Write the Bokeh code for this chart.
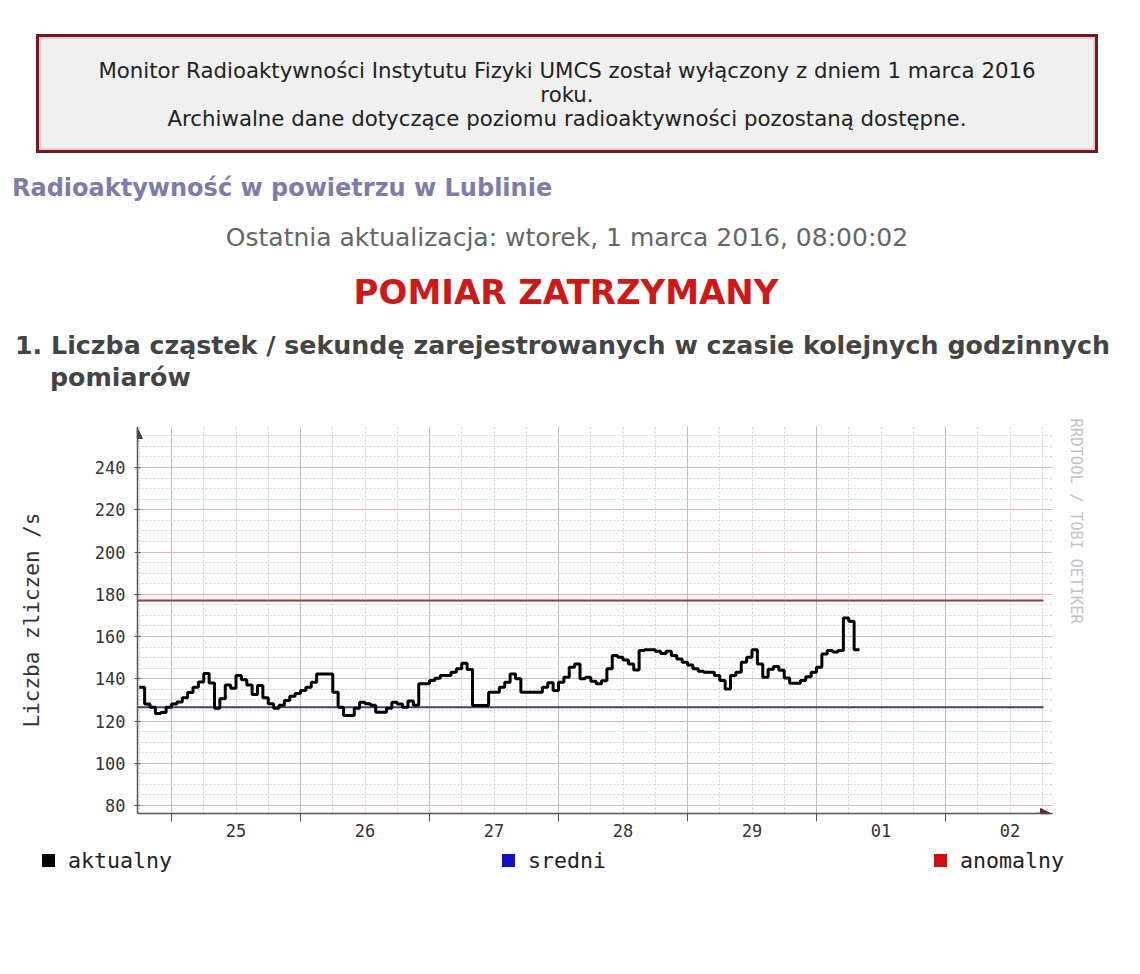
from bokeh.plotting import figure
from bokeh.models import Range1d, FixedTicker, Arrow, NormalHead, Div, Title
from bokeh.layouts import column
from bokeh.embed import file_html
from bokeh.resources import INLINE

# ---------------- data ----------------
# hourly counts / s, first hour = 24 Feb 18:00 (hour -6 relative to 25 Feb 00:00)
start_hour = -6
counts = [
    136, 128, 126.5, 123.5, 124, 126.5, 128, 129, 131, 133.5,
    136, 138.5, 142.5, 138, 126, 130.5, 137, 135.5, 141.5, 139.5,
    137, 132.5, 136.8, 131, 128.2, 126, 127.5, 129.7, 131.7, 133,
    134.4, 136, 138.4, 142.3, 142.3, 142.3, 133.6, 126.5, 122.6, 122.6,
    126, 128.9, 128.2, 127.5, 124.2, 124.2, 126, 128.9, 128, 126.5,
    129.5, 127.5, 137.6, 137.6, 139.2, 140.2, 141.5, 141.5, 143.1, 144.7,
    147.3, 144.4, 127.3, 127.3, 127.3, 133.6, 133.6, 136, 138.4, 142.3,
    140, 133.6, 133.6, 133.6, 133.6, 136, 138.1, 134.4, 138.4, 140.7,
    145.5, 147, 140, 140.7, 138.8, 137.6, 139, 144.7, 151, 150.2,
    148.9, 147, 144.2, 153.4, 153.7, 153.7, 153, 152, 153, 151,
    149.4, 147.8, 146.5, 144.7, 143.5, 143.1, 143.1, 141.5, 139.2, 135.2,
    141.5, 143.1, 147.8, 150.2, 153.7, 147, 140.7, 144.5, 145.8, 144,
    140.4, 137.9, 137.9, 139.2, 141, 143.1, 145.4, 151.7, 153.4, 152.7,
    153.4, 168.8, 167.2, 153.7,
]
sredni = 126.5      # average level
anomalny = 177.0    # anomaly threshold
day_labels = ["25", "26", "27", "28", "29", "01", "02"]
y_ticks = [80, 100, 120, 140, 160, 180, 200, 220, 240]
legend_names = ["aktualny", "sredni", "anomalny"]
legend_colors = ["#000000", "#1010c0", "#d01010"]

header_lines = [
    "Monitor Radioaktywności Instytutu Fizyki UMCS został wyłączony z dniem 1 marca 2016",
    "roku.",
    "Archiwalne dane dotyczące poziomu radioaktywności pozostaną dostępne.",
]
page_title = "Radioaktywność w powietrzu w Lublinie"
update_text = "Ostatnia aktualizacja: wtorek, 1 marca 2016, 08:00:02"
status_text = "POMIAR ZATRZYMANY"
section_line1 = "1. Liczba cząstek / sekundę zarejestrowanych w czasie kolejnych godzinnych"
section_line2 = "pomiarów"
watermark = "RRDTOOL / TOBI OETIKER"

# ---------------- layout constants ----------------
W, H = 1140, 974
TOP_H = 400          # height of the page header block
BOT_Y = 848          # y where legend block starts
FL, FR, FT, FB = 137, 1052, 426, 813
PX_PER_UNIT = 2.1125
PX_PER_HOUR = 5.375
X_ZERO_PX = 171      # pixel of 25 Feb 00:00
Y80_PX = 805         # pixel of value 80


def xval(px):
    return (px - X_ZERO_PX) / PX_PER_HOUR


def yval(py):
    return 80 + (Y80_PX - py) / PX_PER_UNIT


x0, x1 = xval(FL), xval(FR)
y0, y1 = yval(FB), yval(FT)
window_end = xval(1043)

# ---------------- header (HTML) ----------------
F = "'DejaVu Sans', Verdana, sans-serif"


def abs_text(left, center_y, text, size, color, bold=False, width=None, align="left", lh=None):
    lh = lh or int(size * 1.3)
    top = center_y - lh / 2
    w = f"width:{width}px;" if width else ""
    return (f'<div style="position:absolute;left:{left}px;top:{top}px;{w}text-align:{align};'
            f'font-family:{F};font-size:{size}px;line-height:{lh}px;color:{color};'
            f'font-weight:{"bold" if bold else "normal"};white-space:nowrap;">{text}</div>')


top_html = ['<div style="position:relative;width:1140px;height:400px;background:white;">']
top_html.append('<div style="position:absolute;left:36px;top:34px;width:1062px;height:119px;'
                'box-sizing:border-box;border:3px solid #6e1a20;background:#f0f0f0;'
                'box-shadow:inset 0 0 0 2px #efc9c9;"></div>')
for txt, cy in zip(header_lines, [71, 95, 119]):
    top_html.append(abs_text(36, cy, txt, 21.3, "#222222", width=1062, align="center", lh=24))
top_html.append(abs_text(12, 188, page_title, 24, "#7d7da8", bold=True))
top_html.append(abs_text(0, 238, update_text, 25, "#666666", width=1134, align="center"))
top_html.append(abs_text(0, 292, status_text, 34, "#cc1a1a", bold=True, width=1132, align="center"))
top_html.append(abs_text(15, 346, section_line1, 25.3, "#444444", bold=True))
top_html.append(abs_text(50, 378, section_line2, 25.3, "#444444", bold=True))
top_html.append('</div>')
top_div = Div(text="".join(top_html), width=W, height=TOP_H, margin=0)

# ---------------- chart ----------------
p = figure(width=W, height=BOT_Y - TOP_H, x_range=Range1d(x0, x1), y_range=Range1d(y0, y1),
           output_backend="svg", toolbar_location=None,
           min_border_left=FL, min_border_right=W - FR,
           min_border_top=FT - TOP_H, min_border_bottom=BOT_Y - FB)
p.outline_line_color = None
p.background_fill_color = "white"
p.border_fill_color = "white"
p.title.visible = False

midnights = [24 * d for d in range(0, 7)]
six_h = [h for h in range(-6, 163, 6) if h % 24 != 0]
noons = [24 * d + 12 for d in range(len(day_labels))]
p.xgrid.ticker = FixedTicker(ticks=midnights, minor_ticks=six_h)
p.xgrid.grid_line_color = "#bdbdbd"
p.xgrid.minor_grid_line_color = "#d2d2d2"
p.xgrid.minor_grid_line_dash = "2 2"

minor_y = [v for v in range(80, 256, 5) if v not in y_ticks]
p.ygrid.ticker = FixedTicker(ticks=y_ticks, minor_ticks=minor_y)
p.ygrid.grid_line_color = "#e6b4b4"
p.ygrid.minor_grid_line_color = "#d2d2d2"
p.ygrid.minor_grid_line_dash = "2 2"

p.xaxis.ticker = FixedTicker(ticks=noons, minor_ticks=midnights)
p.xaxis.major_label_overrides = {n: lab for n, lab in zip(noons, day_labels)}
p.xaxis.major_tick_line_color = None
p.xaxis.major_tick_out = 0
p.xaxis.major_tick_in = 0
p.xaxis.minor_tick_in = 0
p.xaxis.minor_tick_out = 8
p.xaxis.minor_tick_line_color = "#555555"
p.xaxis.major_label_standoff = 2
p.xaxis.major_label_text_font = "DejaVu Sans Mono"
p.xaxis.major_label_text_font_size = "17px"
p.xaxis.major_label_text_color = "#333333"
p.xaxis.axis_line_color = "#555555"
p.xaxis.axis_line_width = 1.5

p.yaxis.ticker = FixedTicker(ticks=y_ticks)
p.yaxis.major_tick_in = 3
p.yaxis.major_tick_out = 3
p.yaxis.major_tick_line_color = "#555555"
p.yaxis.minor_tick_line_color = None
p.yaxis.major_label_standoff = 9
p.yaxis.major_label_text_font = "DejaVu Sans Mono"
p.yaxis.major_label_text_font_size = "17px"
p.yaxis.major_label_text_color = "#333333"
p.yaxis.axis_line_color = "#555555"
p.yaxis.axis_line_width = 1.5
p.yaxis.axis_label = "Liczba zliczen /s"
p.yaxis.axis_label_text_font = "DejaVu Sans Mono"
p.yaxis.axis_label_text_font_size = "21px"
p.yaxis.axis_label_text_font_style = "normal"
p.yaxis.axis_label_text_color = "#333333"
p.yaxis.axis_label_standoff = 48

# axis arrow heads
p.add_layout(Arrow(end=NormalHead(size=10, fill_color="#444444", line_color="#444444"),
                   x_start=x0, y_start=yval(442), x_end=x0, y_end=yval(428),
                   line_color="#555555", line_width=1.5))
p.add_layout(Arrow(end=NormalHead(size=10, fill_color="#6a2438", line_color="#6a2438"),
                   x_start=xval(1036), y_start=y0, x_end=xval(1050), y_end=y0,
                   line_color="#555555", line_width=1.5))

# reference levels (HRULEs over the graph window)
p.line([x0, window_end], [anomalny, anomalny], line_color="#9a3a3a", line_width=2)
p.line([x0, window_end], [sredni, sredni], line_color="#40407a", line_width=2)

# data step line
xs = [start_hour + i for i in range(len(counts) + 1)]
ys = counts + [counts[-1]]
p.step(xs, ys, mode="after", line_color="black", line_width=3)

# watermark on the right
p.add_layout(Title(text=watermark, align="left", text_font="DejaVu Sans Mono",
                   text_font_size="15.5px", text_color="#c4c4c4", text_font_style="normal",
                   standoff=28, offset=-8), "right")

# ---------------- legend (HTML) ----------------
leg = ['<div style="position:relative;width:1140px;height:126px;background:white;">']
for name, lx, col in zip(legend_names, [42, 502, 934], legend_colors):
    leg.append(f'<div style="position:absolute;left:{lx}px;top:6px;width:13px;height:13px;'
               f'background:{col};"></div>')
    leg.append(f'<div style="position:absolute;left:{lx + 26}px;top:0px;font-family:\'DejaVu Sans Mono\','
               f'monospace;font-size:21.6px;line-height:26px;color:#222222;white-space:nowrap;">{name}</div>')
leg.append('</div>')
bot_div = Div(text="".join(leg), width=W, height=H - BOT_Y, margin=0)

layout = column(top_div, p, bot_div, spacing=0)
open("out.html", "w").write(file_html(layout, INLINE))
